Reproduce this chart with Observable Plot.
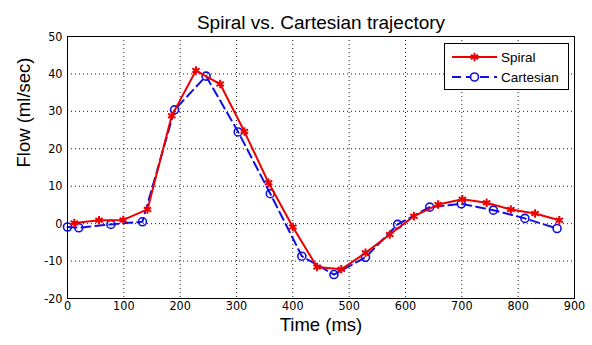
<!DOCTYPE html>
<html>
<head>
<meta charset="utf-8">
<script src="https://cdn.jsdelivr.net/npm/d3@7"></script>
<script src="https://cdn.jsdelivr.net/npm/@observablehq/plot@0.6"></script>
<style>
  body { margin: 0; background: #fff; }
  #chart { position: relative; width: 592px; height: 345px; }
</style>
</head>
<body>
<div id="chart"></div>
<script>
const title = "Spiral vs. Cartesian trajectory";
const xLabel = "Time (ms)";
const yLabel = "Flow (ml/sec)";
const xTicks = [0, 100, 200, 300, 400, 500, 600, 700, 800, 900];
const yTicks = [-20, -10, 0, 10, 20, 30, 40, 50];

const spiralTime = [12, 56, 99, 142, 185, 228, 271, 314, 357, 400, 443, 486, 529, 572, 615, 658, 701, 744, 787, 830, 873];
const spiralFlow = [0.2, 0.9, 1.0, 3.8, 28.8, 40.9, 37.3, 24.6, 10.9, -0.9, -11.6, -12.2, -7.8, -2.9, 2.0, 5.1, 6.5, 5.6, 3.8, 2.7, 0.9];

const cartTime = [0, 20, 77, 133, 190, 246, 303, 360, 416, 473, 529, 586, 643, 699, 756, 812, 869];
const cartFlow = [-0.9, -1.1, -0.2, 0.5, 30.4, 39.4, 24.5, 8.0, -8.7, -13.6, -9.0, -0.2, 4.4, 5.3, 3.6, 1.4, -1.3];

const spiral = spiralTime.map((t, i) => ({t, v: spiralFlow[i]}));
const cart = cartTime.map((t, i) => ({t, v: cartFlow[i]}));

const font = "Liberation Sans, Arial, sans-serif";
const tickFont = "Liberation Sans Narrow, DejaVu Sans Condensed, Liberation Sans, sans-serif";

const chart = Plot.plot({
  width: 592,
  height: 345,
  marginTop: 36,
  marginRight: 18,
  marginBottom: 47,
  marginLeft: 67,
  style: {fontFamily: font, background: "white", color: "black"},
  x: {domain: [0, 900]},
  y: {domain: [-20, 50]},
  marks: [
    Plot.gridX(xTicks, {stroke: "black", strokeOpacity: 0.9, strokeDasharray: "1,3", strokeWidth: 1}),
    Plot.gridY(yTicks, {stroke: "black", strokeOpacity: 0.9, strokeDasharray: "1,3", strokeWidth: 1}),
    Plot.axisX({ticks: xTicks, tickSize: 0, tickPadding: 3, fontSize: 12.5, fontFamily: tickFont, label: null, tickFormat: d => d}),
    Plot.axisY({ticks: yTicks, tickSize: 0, tickPadding: 5, fontSize: 12.5, fontFamily: tickFont, label: null, tickFormat: d => d}),
    Plot.line(cart, {x: "t", y: "v", stroke: "#1010e0", strokeWidth: 2, strokeDasharray: "9,5"}),
    Plot.dot(cart, {x: "t", y: "v", stroke: "#1010e0", strokeWidth: 1.6, r: 4, fill: "none"}),
    Plot.line(spiral, {x: "t", y: "v", stroke: "#ee0000", strokeWidth: 2}),
    Plot.dot(spiral, {x: "t", y: "v", symbol: "asterisk", stroke: "#ee0000", strokeWidth: 2, r: 4}),
    Plot.frame({stroke: "black", strokeWidth: 1}),
    Plot.text([title], {frameAnchor: "top", dy: -21, fontSize: 19, fill: "black"}),
    Plot.text([xLabel], {frameAnchor: "bottom", dy: 32, fontSize: 18.5, fill: "black"}),
    Plot.text([yLabel], {frameAnchor: "left", dx: -43, rotate: -90, fontSize: 18.5, fill: "black"})
  ]
});

document.getElementById("chart").appendChild(chart);

// Legend box (MATLAB-style, top-right inside the axes)
const svg = d3.select(chart);
const lg = svg.append("g").attr("font-family", font).attr("font-size", 13.5).attr("text-anchor", "start");
lg.append("rect").attr("x", 444.5).attr("y", 43.5).attr("width", 124).attr("height", 46)
  .attr("fill", "white").attr("stroke", "black").attr("stroke-width", 1);
const entries = [
  {label: "Spiral", color: "#ee0000", dash: null, sym: d3.symbolAsterisk},
  {label: "Cartesian", color: "#1010e0", dash: "9,5", sym: d3.symbolCircle}
];
entries.forEach((e, i) => {
  const y = 57 + i * 20;
  lg.append("line").attr("x1", 452).attr("x2", 497).attr("y1", y).attr("y2", y)
    .attr("stroke", e.color).attr("stroke-width", 2).attr("stroke-dasharray", e.dash);
  lg.append("path").attr("d", d3.symbol(e.sym, 50)()).attr("transform", `translate(474.5,${y})`)
    .attr("stroke", e.color).attr("stroke-width", e.sym === d3.symbolCircle ? 1.6 : 2).attr("fill", "white");
  lg.append("text").attr("x", 501).attr("y", y).attr("dy", "0.35em").attr("fill", "black")
    .attr("text-anchor", "start").text(e.label);
});
</script>
</body>
</html>
